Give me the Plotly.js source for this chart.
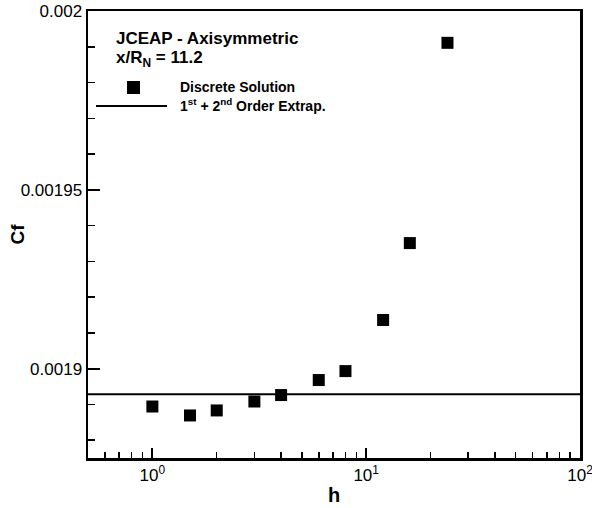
<!DOCTYPE html>
<html>
<head>
<meta charset="utf-8">
<script src="https://cdn.plot.ly/plotly-3.0.1.min.js"></script>
<style>
html, body { margin: 0; padding: 0; background: #ffffff; }
#chart { width: 592px; height: 508px; }
</style>
</head>
<body>
<div id="chart"></div>
<script>
// ---- data ----
var hValues  = [1, 1.5, 2, 3, 4, 6, 8, 12, 16, 24];
var cfValues = [0.0018894, 0.0018869, 0.0018883, 0.0018908, 0.0018926, 0.0018968, 0.0018993, 0.0019136, 0.0019351, 0.0019911];
var extrapH  = [0.5, 100];
var extrapCf = [0.0018928, 0.0018928];

var xTickVals = [1, 10, 100];
var xTickText = ['10<sup>0</sup>', '10<sup>1</sup>', '10<sup>2</sup>'];
var yTickVals = [0.0019, 0.00195, 0.002];
var yTickText = ['0.0019', '0.00195', '0.002'];

var seriesName1 = 'Discrete Solution';
var seriesName2 = '1<sup>st</sup> + 2<sup>nd</sup> Order Extrap.';
var titleLine1 = 'JCEAP - Axisymmetric';
var titleLine2 = 'x/R<sub>N</sub> = 11.2';

// ---- layout helpers ----
var W = 592, H = 508;
var M = {l: 88, r: 12, t: 11, b: 50};
var PW = W - M.l - M.r, PH = H - M.t - M.b;
function px(x) { return (x - M.l) / PW; }
function py(y) { return (H - M.b - y) / PH; }

var minorX = [];
[0.1, 1, 10].forEach(function (d) {
  for (var k = 2; k <= 9; k++) {
    var v = +(k * d).toPrecision(3);
    if (v > 0.5) minorX.push(v);
  }
});

var FONT = 'Liberation Sans, Arial, Helvetica, sans-serif';

var traces = [
  {
    x: hValues, y: cfValues, type: 'scatter', mode: 'markers', name: seriesName1,
    marker: {symbol: 'square', size: 12, color: '#000000', line: {width: 0}},
    showlegend: false, cliponaxis: false
  },
  {
    x: extrapH, y: extrapCf, type: 'scatter', mode: 'lines', name: seriesName2,
    line: {color: '#000000', width: 2},
    showlegend: false
  }
];

var layout = {
  width: W, height: H,
  margin: M,
  paper_bgcolor: '#ffffff', plot_bgcolor: '#ffffff',
  font: {family: FONT, color: '#000000', size: 17},
  showlegend: false,
  xaxis: {
    type: 'log', range: [Math.log10(0.5), 2],
    showline: true, linecolor: '#000000', linewidth: 2.5, mirror: true,
    showgrid: false, zeroline: false,
    ticks: 'inside', ticklen: 10, tickwidth: 2, tickcolor: '#000000',
    tickmode: 'array', tickvals: xTickVals, ticktext: xTickText,
    ticklabeloverflow: 'allow',
    tickfont: {family: FONT, size: 17, color: '#000000'},
    minor: {tickmode: 'array', tickvals: minorX, ticks: 'inside', ticklen: 6, tickwidth: 1.5, tickcolor: '#000000', showgrid: false},
    title: {text: 'h', font: {family: FONT, size: 20, weight: 'bold', color: '#000000'}, standoff: 4}
  },
  yaxis: {
    range: [0.001875, 0.002],
    showline: true, linecolor: '#000000', linewidth: 2.5, mirror: true,
    showgrid: false, zeroline: false,
    ticks: 'inside', ticklen: 12, tickwidth: 2, tickcolor: '#000000',
    tickmode: 'array', tickvals: yTickVals, ticktext: yTickText,
    ticklabeloverflow: 'allow',
    tickfont: {family: FONT, size: 17, color: '#000000'},
    minor: {tickmode: 'linear', tick0: 0.0019, dtick: 0.00001, ticks: 'inside', ticklen: 7, tickwidth: 1.5, tickcolor: '#000000', showgrid: false}
  },
  shapes: [
    {type: 'line', xref: 'paper', yref: 'paper', x0: px(96), x1: px(167), y0: py(106), y1: py(106),
     line: {color: '#000000', width: 2}},
    {type: 'rect', xref: 'paper', yref: 'paper', x0: px(127), x1: px(140), y0: py(81), y1: py(94),
     fillcolor: '#000000', line: {width: 0}}
  ],
  annotations: [
    {text: titleLine1, xref: 'paper', yref: 'paper', x: px(114), y: py(38), xanchor: 'left', yanchor: 'middle',
     showarrow: false, font: {family: FONT, size: 17, weight: 'bold', color: '#000000'}},
    {text: titleLine2, xref: 'paper', yref: 'paper', x: px(114), y: py(59), xanchor: 'left', yanchor: 'middle',
     showarrow: false, font: {family: FONT, size: 17, weight: 'bold', color: '#000000'}},
    {text: seriesName1, xref: 'paper', yref: 'paper', x: px(178), y: py(87), xanchor: 'left', yanchor: 'middle',
     showarrow: false, font: {family: FONT, size: 14, weight: 'bold', color: '#000000'}},
    {text: seriesName2, xref: 'paper', yref: 'paper', x: px(178), y: py(105), xanchor: 'left', yanchor: 'middle',
     showarrow: false, font: {family: FONT, size: 14, weight: 'bold', color: '#000000'}},
    {text: 'Cf', xref: 'paper', yref: 'paper', x: px(17), y: 0.5, xanchor: 'center', yanchor: 'middle',
     textangle: -90, showarrow: false, font: {family: FONT, size: 19, weight: 'bold', color: '#000000'}}
  ]
};

Plotly.newPlot('chart', traces, layout, {displayModeBar: false, staticPlot: true});
</script>
</body>
</html>
